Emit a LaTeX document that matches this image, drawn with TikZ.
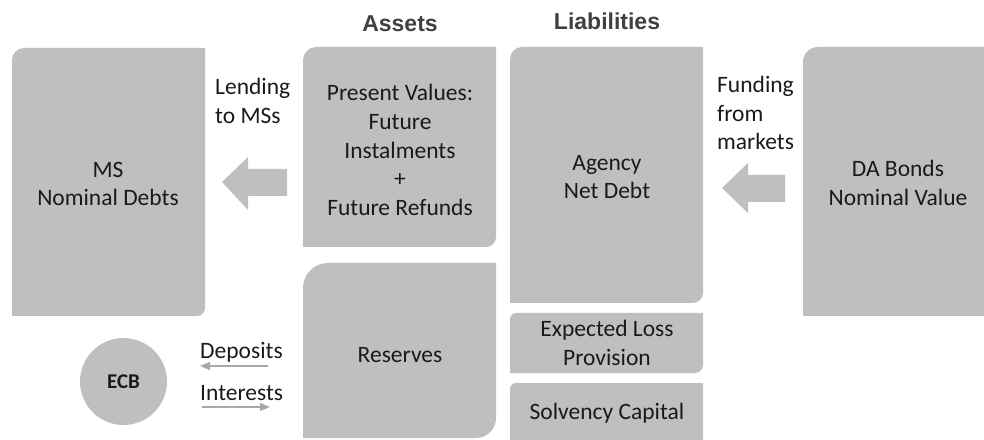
\documentclass[tikz,border=0pt]{standalone}
\usepackage{fontspec}
\setmainfont{Carlito}
\newfontfamily\headfont{Liberation Sans}
\usetikzlibrary{arrows.meta}
\definecolor{boxgray}{HTML}{BFBFBF}
\definecolor{arrgray}{HTML}{A8A8A8}
\definecolor{txt}{HTML}{1A1A1A}
\definecolor{headgray}{HTML}{404040}
% box with top-left radius #5 and bottom-right radius #6
\newcommand{\rbox}[6]{%
  \fill[boxgray] (#1,#4) -- (#1,#2-#5) arc[start angle=180,end angle=90,radius=#5]
    -- (#3,#2) -- (#3,#4+#6) arc[start angle=0,end angle=-90,radius=#6] -- cycle;}
\begin{document}
\begin{tikzpicture}[x=1pt,y=1pt,
  lbl/.style={text=txt,font=\fontsize{23.5}{28.7}\selectfont,align=center,inner sep=0pt},
  lbll/.style={lbl,align=left},
  head/.style={text=headgray,font=\headfont\bfseries\fontsize{23}{27}\selectfont,inner sep=0pt},
  bigarrow/.style={fill=boxgray},
  smallarrow/.style={draw=arrgray,line width=1.4pt,-{Triangle[length=10pt,width=8pt]}}]
\useasboundingbox (0,0) rectangle (984,439);
% boxes
\rbox{12}{391}{205}{123}{12}{8}
\rbox{303}{392}{496}{192}{13}{10}
\rbox{303}{176}{496}{1}{25}{20}
\rbox{510}{392}{703}{136}{12}{10}
\rbox{510}{126}{703}{66}{6}{8}
\rbox{510}{56}{703}{-10}{6}{0.1}
\rbox{803}{392}{1000}{123}{15}{0.1}
% headings
\node[head] (assets) at (400,415) {Assets};
\node[head] (liab) at (607,418) {Liabilities};
% box texts
\node[lbl] (ms) at (108,255) {MS\\Nominal Debts};
\node[lbl] (pv) at (400,289) {Present Values:\\Future\\Instalments\\+\\Future Refunds};
\node[lbl] (agency) at (607,262) {Agency\\Net Debt};
\node[lbl] (da) at (898,256) {DA Bonds\\Nominal Value};
\node[lbl] (res) at (400,84) {Reserves};
\node[lbl] (elp) at (607,96) {Expected Loss\\Provision};
\node[lbl] (solv) at (607,26) {Solvency Capital};
\node[lbll,anchor=west] (lend) at (215,338) {Lending\\to MSs};
\node[lbll,anchor=west] (fund) at (717,326) {Funding\\from\\markets};
% big arrows
\fill[bigarrow] (222,257) -- (248,282) -- (248,270) -- (287,270) -- (287,243) -- (248,243) -- (248,229) -- cycle;
\fill[bigarrow] (722,251) -- (748,276) -- (748,264) -- (785,264) -- (785,237) -- (748,237) -- (748,226) -- cycle;
% ECB
\node[circle,fill=boxgray,minimum size=87pt,inner sep=0pt,text=txt,font=\bfseries\fontsize{21}{24}\selectfont] (ecb) at (123.5,57.5) {ECB};
\node[lbll,anchor=west] (dep) at (200,87) {Deposits};
\node[lbll,anchor=west] (int) at (200,46) {Interests};
\coordinate (depR) at (268,73);
\coordinate (depL) at (200,73);
\coordinate (intL) at (202,32);
\coordinate (intR) at (270,32);
\draw[smallarrow] (depR) -- (depL);
\draw[smallarrow] (intL) -- (intR);
\end{tikzpicture}
\end{document}
